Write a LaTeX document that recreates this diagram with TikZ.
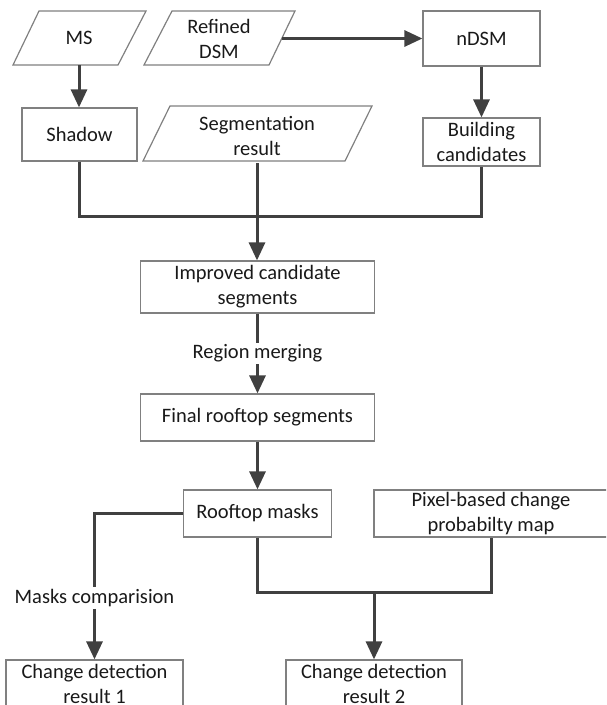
\documentclass[tikz,border=0pt]{standalone}
\usepackage{fontspec}
\setmainfont{Carlito}
\usetikzlibrary{arrows.meta}
\definecolor{connc}{HTML}{404040}
\definecolor{bordc}{HTML}{808080}
\begin{document}
\begin{tikzpicture}[x=1pt,y=-1pt,
  every node/.style={font=\fontsize{20.5}{25}\selectfont, text=black!90},
  box/.style={draw=bordc, line width=1.2pt, inner sep=0pt, align=center, fill=white},
  plain/.style={inner sep=0pt, align=center},
  pgram/.style={draw=bordc, line width=1.2pt},
  conn/.style={draw=connc, line width=3pt},
  arr/.style={conn, -{Triangle[length=18pt,width=16pt]}},
  lbl/.style={fill=white, inner sep=2pt, align=center}
]
\clip (0,0) rectangle (606,705);
\useasboundingbox (0,0) rectangle (606,705);

% parallelograms
\draw[pgram] (39,11) -- (146,11) -- (118,65) -- (13,65) -- cycle;
\draw[pgram] (172,11) -- (295,11) -- (269,65) -- (144,65) -- cycle;
\draw[pgram] (170,106) -- (372,106) -- (345,161) -- (143,161) -- cycle;

% nodes
\node[plain] (ms) at (79,38) {MS};
\node[plain] (rdsm) at (219,39) {Refined\\DSM};
\coordinate (rdsmE) at (282,38.5);
\coordinate (msS) at (79,65);
\node[box, minimum width=117pt, minimum height=55pt] (ndsm) at (481.5,38.5) {nDSM};
\node[box, minimum width=115pt, minimum height=53pt] (shadow) at (79.5,134.5) {Shadow};
\node[plain] (seg) at (257,136) {Segmentation\\result};
\coordinate (segS) at (257,163);
\node[box, minimum width=117pt, minimum height=48pt] (bc) at (481.5,142) {Building\\candidates};
\node[box, minimum width=234pt, minimum height=52pt] (imp) at (257.5,287) {Improved candidate\\segments};
\node[box, minimum width=234pt, minimum height=47pt] (fin) at (257.5,417.5) {Final rooftop segments};
\node[box, minimum width=148pt, minimum height=47pt] (roof) at (257.5,513.5) {Rooftop masks};
\node[box, minimum width=234pt, minimum height=47pt] (pix) at (491,513.5) {Pixel-based change\\probabilty map};
\node[box, minimum width=177pt, minimum height=47pt] (cd1) at (94.5,683.5) {Change detection\\result 1};
\node[box, minimum width=176pt, minimum height=47pt] (cd2) at (374,683.5) {Change detection\\result 2};
\node[lbl] (mc) at (94.5,598) {Masks comparision};
\coordinate (j1) at (257,216);
\coordinate (j2) at (374,592);

% connectors
\draw[arr] (msS) -- (msS |- shadow.north);
\draw[arr] (rdsmE) -- (ndsm.west);
\draw[arr] (ndsm.south) -- (bc.north);
\draw[conn] (shadow.south) |- (j1) -| (bc.south);
\draw[arr] (segS) -- (segS |- imp.north);
\draw[arr] (imp.south) -- (fin.north) node[lbl, midway] (rm) {Region merging};
\draw[arr] (fin.south) -- (roof.north);
\draw[conn] (roof.west) -| (mc.north);
\draw[arr] (mc.south) -- (cd1.north);
\draw[conn] (roof.south) |- (j2) -| (pix.south);
\draw[arr] (j2) -- (cd2.north);
\end{tikzpicture}
\end{document}
